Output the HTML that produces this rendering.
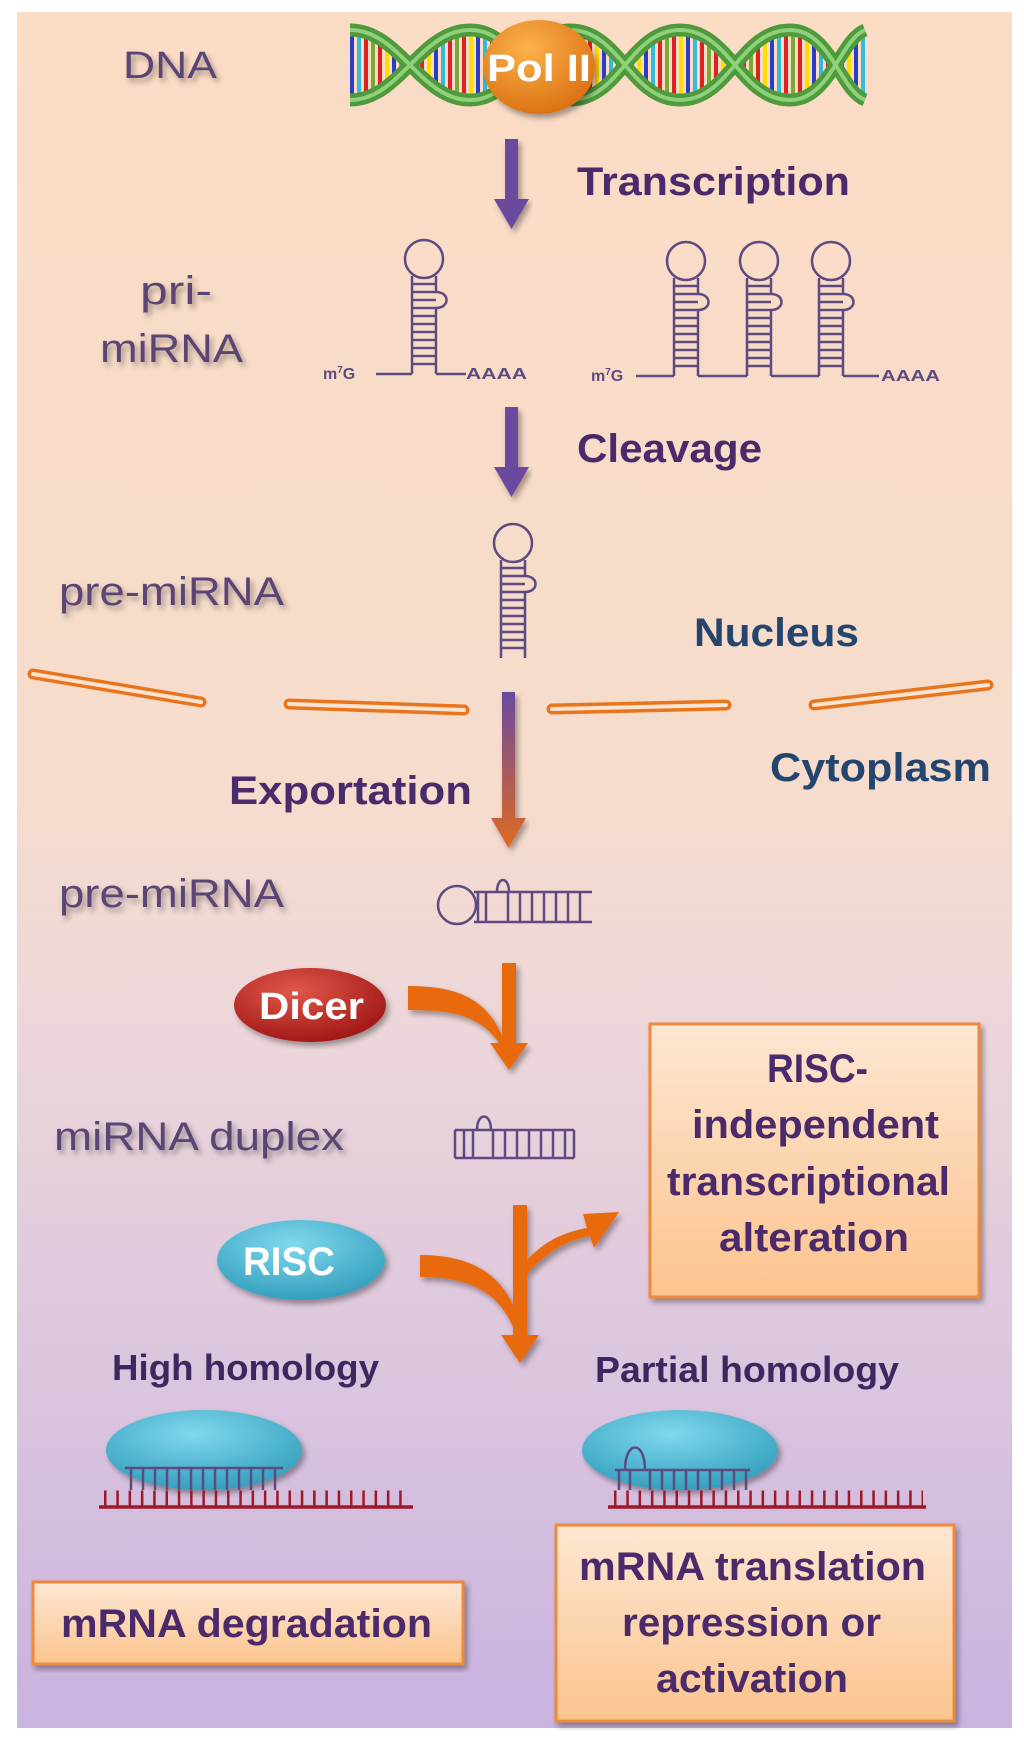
<!DOCTYPE html>
<html><head><meta charset="utf-8"><style>
html,body{margin:0;padding:0;background:#fff;}
svg{display:block}
text{font-family:"Liberation Sans",sans-serif;}
</style></head><body>
<svg width="1024" height="1754" viewBox="0 0 1024 1754" xmlns="http://www.w3.org/2000/svg">
<defs>
<linearGradient id="bg" x1="0" y1="0" x2="0" y2="1">
<stop offset="0" stop-color="#fbdcc5"/><stop offset="0.45" stop-color="#f6dccc"/>
<stop offset="0.6" stop-color="#ecd6db"/><stop offset="1" stop-color="#c9b3e0"/></linearGradient>
<linearGradient id="box" x1="0" y1="0" x2="0" y2="1"><stop offset="0" stop-color="#fde6d2"/><stop offset="1" stop-color="#fbc48e"/></linearGradient>
<radialGradient id="pol" cx="0.4" cy="0.3" r="0.8"><stop offset="0" stop-color="#fbb24a"/><stop offset="1" stop-color="#d86a0c"/></radialGradient>
<radialGradient id="dic" cx="0.4" cy="0.3" r="0.8"><stop offset="0" stop-color="#e0584a"/><stop offset="1" stop-color="#9a1010"/></radialGradient>
<radialGradient id="ris" cx="0.45" cy="0.3" r="0.8"><stop offset="0" stop-color="#7fd8ec"/><stop offset="1" stop-color="#2a98b8"/></radialGradient>
<linearGradient id="exp" x1="0" y1="0" x2="0" y2="1"><stop offset="0" stop-color="#6a4a9e"/><stop offset="1" stop-color="#e06a20"/></linearGradient>
<filter id="sh"><feDropShadow dx="3" dy="4" stdDeviation="3" flood-opacity="0.35"/></filter>
<clipPath id="lens"><path fill-rule="evenodd" d="M350 30 C400 30 420 100 470 100 C520 100 520 30 570 30 C620 30 630 100 680 100 C730 100 740 30 790 30 C830 30 840 90 865 100 L865 30 C840 40 830 100 790 100 C740 100 730 30 680 30 C630 30 620 100 570 100 C520 100 520 30 470 30 C420 30 400 100 350 100Z"/></clipPath>
<pattern id="rungs" width="42" height="100" patternUnits="userSpaceOnUse">
<rect x="0" y="0" width="4" height="100" fill="#d22"/><rect x="7" y="0" width="4" height="100" fill="#fd0"/><rect x="14" y="0" width="4" height="100" fill="#2a3fc0"/><rect x="21" y="0" width="4" height="100" fill="#3bd"/><rect x="28" y="0" width="4" height="100" fill="#d22"/><rect x="35" y="0" width="4" height="100" fill="#7a3"/>
</pattern>
</defs>
<rect x="17" y="12" width="995" height="1716" fill="url(#bg)"/>

<!-- DNA -->
<rect x="345" y="25" width="525" height="80" fill="url(#rungs)" clip-path="url(#lens)"/>
<g stroke="#4f9a3c" stroke-width="13" fill="none">
<path d="M350 30 C400 30 420 100 470 100 C520 100 520 30 570 30 C620 30 630 100 680 100 C730 100 740 30 790 30 C830 30 840 90 865 100"/>
<path d="M350 100 C400 100 420 30 470 30 C520 30 520 100 570 100 C620 100 630 30 680 30 C730 30 740 100 790 100 C830 100 840 40 865 30"/>
</g>
<g stroke="#8fd07a" stroke-width="4" fill="none">
<path d="M350 30 C400 30 420 100 470 100 C520 100 520 30 570 30 C620 30 630 100 680 100 C730 100 740 30 790 30 C830 30 840 90 865 100"/>
<path d="M350 100 C400 100 420 30 470 30 C520 30 520 100 570 100 C620 100 630 30 680 30 C730 30 740 100 790 100 C830 100 840 40 865 30"/>
</g>
<ellipse cx="539" cy="67" rx="56" ry="47" fill="url(#pol)" filter="url(#sh)"/>
<text x="487" y="81" font-size="38" font-weight="bold" fill="#fff" textLength="104" lengthAdjust="spacingAndGlyphs">Pol II</text>
<text x="123" y="78" font-size="38" fill="#5a4575" filter="url(#sh)" textLength="94" lengthAdjust="spacingAndGlyphs">DNA</text>

<!-- arrows -->
<g fill="#6a4a9e" filter="url(#sh)">
<path d="M505 139h13v60h11l-17.5 30l-17.5-30h11z"/>
<path d="M505 407h13v60h11l-17.5 30l-17.5-30h11z"/>
</g>
<path d="M502 692h13v126h11l-17.5 30l-17.5-30h11z" fill="url(#exp)" filter="url(#sh)"/>
<g font-size="40" font-weight="bold" fill="#4a2a6a" lengthAdjust="spacingAndGlyphs">
<text x="577" y="195" textLength="273" lengthAdjust="spacingAndGlyphs">Transcription</text>
<text x="577" y="462" textLength="185" lengthAdjust="spacingAndGlyphs">Cleavage</text>
<text x="229" y="804" textLength="243" lengthAdjust="spacingAndGlyphs">Exportation</text>
</g>
<g font-size="40" font-weight="bold" fill="#24466e">
<text x="694" y="646" textLength="165" lengthAdjust="spacingAndGlyphs">Nucleus</text>
<text x="770" y="781" textLength="221" lengthAdjust="spacingAndGlyphs">Cytoplasm</text>
</g>
<g font-size="40" fill="#5a4575" filter="url(#sh)">
<text x="140" y="304" textLength="72" lengthAdjust="spacingAndGlyphs">pri-</text>
<text x="100" y="362" textLength="143" lengthAdjust="spacingAndGlyphs">miRNA</text>
<text x="59" y="605" textLength="225" lengthAdjust="spacingAndGlyphs">pre-miRNA</text>
<text x="59" y="907" textLength="225" lengthAdjust="spacingAndGlyphs">pre-miRNA</text>
<text x="54" y="1150" textLength="290" lengthAdjust="spacingAndGlyphs">miRNA duplex</text>
</g>

<!-- hairpins -->
<g stroke="#5e4a80" stroke-width="2.5" fill="none">
<g id="hp">
<circle cx="424" cy="259" r="19"/>
<path d="M412 276V374M436 276V292M436 308V374"/>
<path d="M436 292c14 0 14 16 0 16"/>
<path d="M412 284h24M412 292h24M412 300h24M412 308h24M412 316h24M412 324h24M412 332h24M412 340h24M412 348h24M412 356h24M412 364h24"/>
</g>
<path d="M376 374h36M436 374h30"/>
<use href="#hp" x="262" y="2"/><use href="#hp" x="335" y="2"/><use href="#hp" x="407" y="2"/>
<path d="M636 376h38M698 376h49M771 376h48M843 376h36"/>
<use href="#hp" x="89" y="284"/>
<!-- horizontal pre-miRNA -->
<circle cx="457" cy="905" r="19"/>
<path d="M474 892H592M474 922H592M580 892V922M568 892V922M556 892V922M544 892V922M532 892V922M520 892V922M508 892V922M486 892V922M478 892V922"/>
<path d="M497 892c0-16 12-16 12 0"/>
<!-- duplex -->
<path d="M455 1130H574M455 1158H574M455 1130V1158M464 1130V1158M473 1130V1158M493 1130V1158M505 1130V1158M517 1130V1158M529 1130V1158M541 1130V1158M553 1130V1158M565 1130V1158M574 1130V1158"/>
<path d="M477 1130c0-18 14-18 14 0"/>
</g>
<g font-size="16" font-weight="bold" fill="#5e4a80">
<text x="323" y="379">m<tspan font-size="10" dy="-6">7</tspan><tspan dy="6">G</tspan></text>
<text x="466" y="379" textLength="61" lengthAdjust="spacingAndGlyphs">AAAA</text>
<text x="591" y="381">m<tspan font-size="10" dy="-6">7</tspan><tspan dy="6">G</tspan></text>
<text x="881" y="381" textLength="59" lengthAdjust="spacingAndGlyphs">AAAA</text>
</g>

<!-- membrane -->
<g stroke="#e8751c" stroke-width="11" stroke-linecap="round" fill="none">
<path d="M33 674L201 702M289 704L464 710M552 709L726 705M814 705L988 685"/>
</g>
<g stroke="#fbe3d2" stroke-width="4" stroke-linecap="round" fill="none">
<path d="M33 674L201 702M289 704L464 710M552 709L726 705M814 705L988 685"/>
</g>

<!-- Dicer -->
<ellipse cx="310" cy="1005" rx="76" ry="37" fill="url(#dic)" filter="url(#sh)"/>
<text x="259" y="1019" font-size="38" font-weight="bold" fill="#fff" textLength="105" lengthAdjust="spacingAndGlyphs">Dicer</text>
<g fill="#e86a10" filter="url(#sh)">
<path d="M502 963h14v80h12l-19 27l-19-27h12z"/>
<path d="M408 986c45 0 80 10 96 55l0 10c-20-36-50-41-96-41z"/>
</g>

<!-- RISC-independent box -->
<rect x="650" y="1024" width="329" height="273" fill="url(#box)" stroke="#f08a3a" stroke-width="3" filter="url(#sh)"/>
<g font-size="40" font-weight="bold" fill="#4a2a6a">
<text x="767" y="1082" textLength="101" lengthAdjust="spacingAndGlyphs">RISC-</text>
<text x="692" y="1138" textLength="247" lengthAdjust="spacingAndGlyphs">independent</text>
<text x="667" y="1195" textLength="283" lengthAdjust="spacingAndGlyphs">transcriptional</text>
<text x="719" y="1251" textLength="190" lengthAdjust="spacingAndGlyphs">alteration</text>
</g>

<!-- RISC -->
<ellipse cx="301" cy="1260" rx="84" ry="40" fill="url(#ris)" filter="url(#sh)"/>
<text x="243" y="1275" font-size="40" font-weight="bold" fill="#fff" textLength="92" lengthAdjust="spacingAndGlyphs">RISC</text>
<g fill="#e86a10" filter="url(#sh)">
<path d="M513 1205h14v130h12l-19 28l-19-28h12z"/>
<path d="M420 1255c45 0 80 15 95 55l0 22c-15-40-45-55-95-55z"/>
<path d="M525 1262c20-22 40-30 62-34l-4-14l36-2l-25 36l-4-12c-20 4-40 12-65 40z"/>
</g>

<g font-size="36" font-weight="bold" fill="#3e2660">
<text x="112" y="1380" textLength="267" lengthAdjust="spacingAndGlyphs">High homology</text>
<text x="595" y="1382" textLength="304" lengthAdjust="spacingAndGlyphs">Partial homology</text>
</g>

<!-- RISC targets -->
<ellipse cx="204" cy="1450" rx="98" ry="40" fill="url(#ris)" filter="url(#sh)"/>
<ellipse cx="680" cy="1450" rx="98" ry="40" fill="url(#ris)" filter="url(#sh)"/>
<g stroke="#5e4a80" stroke-width="2.5" fill="none">
<path d="M125 1468H283M131 1468V1490M143 1468V1490M155 1468V1490M167 1468V1490M179 1468V1490M191 1468V1490M203 1468V1490M215 1468V1490M227 1468V1490M239 1468V1490M251 1468V1490M263 1468V1490M275 1468V1490"/>
<path d="M615 1470H750M619 1470V1490M630 1470V1490M650 1470V1490M662 1470V1490M674 1470V1490M686 1470V1490M698 1470V1490M710 1470V1490M722 1470V1490M734 1470V1490M746 1470V1490"/>
<path d="M625 1470c0-30 20-30 20 0"/>
</g>
<g stroke="#a01828">
<path d="M99 1507H413" stroke-width="3.5"/>
<path d="M608 1507H926" stroke-width="3.5"/>
</g>
<path d="M104 1499H410" stroke="#a01828" stroke-width="17" stroke-dasharray="2.5 9.8" fill="none"/>
<path d="M614 1499H923" stroke="#a01828" stroke-width="17" stroke-dasharray="2.5 9.8" fill="none"/>

<!-- bottom boxes -->
<rect x="33" y="1582" width="430" height="82" fill="url(#box)" stroke="#f08a3a" stroke-width="3" filter="url(#sh)"/>
<rect x="556" y="1525" width="398" height="196" fill="url(#box)" stroke="#f08a3a" stroke-width="3" filter="url(#sh)"/>
<g font-size="40" font-weight="bold" fill="#4a2a6a">
<text x="61" y="1637" textLength="371" lengthAdjust="spacingAndGlyphs">mRNA degradation</text>
<text x="579" y="1580" textLength="347" lengthAdjust="spacingAndGlyphs">mRNA translation</text>
<text x="622" y="1636" textLength="259" lengthAdjust="spacingAndGlyphs">repression or</text>
<text x="656" y="1692" textLength="192" lengthAdjust="spacingAndGlyphs">activation</text>
</g>
</svg>
</body></html>
